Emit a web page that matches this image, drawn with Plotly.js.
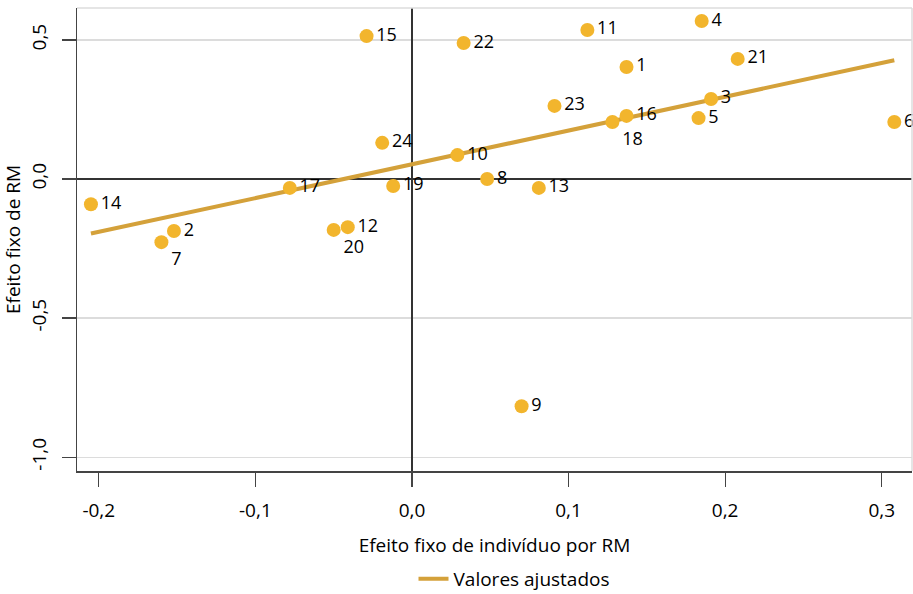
<!DOCTYPE html>
<html>
<head>
<meta charset="utf-8">
<script src="https://cdn.plot.ly/plotly-3.0.1.min.js"></script>
<style>html,body{margin:0;padding:0;background:#fff;}#chart{width:913px;height:594px;}</style>
</head>
<body>
<div id="chart"></div>
<script>
// Data
var pointIds = ["1","2","3","4","5","6","7","8","9","10","11","12","13","14","15","16","17","18","19","20","21","22","23","24"];
var effectIndividual = [0.137,-0.152,0.191,0.185,0.183,0.308,-0.160,0.048,0.070,0.029,0.112,-0.041,0.081,-0.205,-0.029,0.137,-0.078,0.128,-0.012,-0.050,0.208,0.033,0.091,-0.019];
var effectRM = [0.403,-0.187,0.288,0.568,0.219,0.205,-0.227,0.000,-0.817,0.086,0.536,-0.173,-0.032,-0.091,0.514,0.227,-0.032,0.205,-0.025,-0.183,0.432,0.489,0.263,0.130];
var fittedX = [-0.205, 0.308];
var fittedY = [-0.196, 0.427];
var xTicks = [-0.2,-0.1,0,0.1,0.2,0.3];
var yTicks = [-1,-0.5,0,0.5];

function fmt(v){ return v.toFixed(1).replace('.', ','); }

var labelPos = pointIds.map(function(id){
  return (id === "18" || id === "20" || id === "7") ? "bottom right" : "middle right";
});

var FONT = "Open Sans, Noto Sans, sans-serif";
var FS = 19;
var traces = [
  {
    x: fittedX, y: fittedY, mode: "lines", name: "Valores ajustados",
    line: {color: "#D4A13A", width: 4}, showlegend: true, hoverinfo: "skip"
  },
  {
    x: effectIndividual, y: effectRM, text: pointIds, mode: "markers+text",
    textposition: labelPos, cliponaxis: false,
    textfont: {family: FONT, size: 18, color: "#000"},
    marker: {color: "#F2B52D", size: 14, line: {width: 0}},
    showlegend: false
  }
];

var layout = {
  width: 913, height: 594,
  margin: {l: 77, r: 1, t: 8, b: 123, autoexpand: false},
  paper_bgcolor: "#fff", plot_bgcolor: "#fff",
  font: {family: FONT, size: FS, color: "#000"},
  xaxis: {
    automargin: false,
    range: [-0.2139, 0.3193], tickvals: xTicks, ticktext: xTicks.map(fmt),
    showgrid: false, zeroline: true, zerolinecolor: "#333", zerolinewidth: 1.2,
    showline: true, linecolor: "#444", linewidth: 1.5,
    ticks: "outside", ticklen: 14, tickcolor: "#444", tickwidth: 1.2,
    ticklabelstandoff: 8,
    tickfont: {family: FONT, size: FS, color: "#000"},
    title: {text: "Efeito fixo de indivíduo por RM", font: {family: FONT, size: FS, color: "#000"}, standoff: 16}
  },
  yaxis: {
    automargin: false,
    range: [-1.05, 0.615], tickvals: yTicks, ticktext: yTicks.map(fmt), tickangle: -90,
    showgrid: true, gridcolor: "#dcdcdc", gridwidth: 1.2,
    zeroline: true, zerolinecolor: "#333", zerolinewidth: 1.2,
    showline: true, linecolor: "#444", linewidth: 1.5,
    ticks: "outside", ticklen: 14, tickcolor: "#444", tickwidth: 1.2,
    ticklabelstandoff: 8,
    tickfont: {family: FONT, size: FS, color: "#000"},
    title: {text: "Efeito fixo de RM", font: {family: FONT, size: FS, color: "#000"}, standoff: 6}
  },
  shapes: [
    {type: "line", xref: "paper", yref: "paper", x0: 0, x1: 1, y0: 1, y1: 1, line: {color: "#dcdcdc", width: 1.5}},
    {type: "line", xref: "paper", yref: "paper", x0: 1, x1: 1, y0: 0, y1: 1, line: {color: "#dcdcdc", width: 1.5}}
  ],
  legend: {
    orientation: "h", x: 0.403, xanchor: "left", y: -0.2743, yanchor: "bottom",
    font: {family: FONT, size: FS, color: "#000"}, bgcolor: "rgba(0,0,0,0)"
  },
  showlegend: true
};

Plotly.newPlot("chart", traces, layout, {displayModeBar: false, staticPlot: true});
</script>
</body>
</html>
